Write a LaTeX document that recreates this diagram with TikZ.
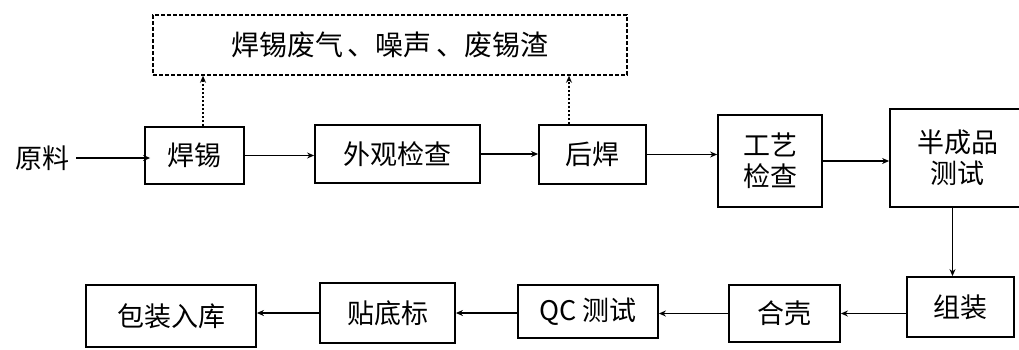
\documentclass[tikz,border=0pt]{standalone}
\usepackage{fontspec}
\setmainfont{Noto Sans CJK SC}
\usetikzlibrary{arrows.meta}
\begin{document}
\begin{tikzpicture}[x=1pt,y=-1pt,
  box/.style={draw, line width=1.8pt, inner sep=0pt, align=center, font=\fontsize{27}{31}\selectfont},
  lbl/.style={inner sep=0pt, font=\fontsize{27}{31}\selectfont},
  flow/.style={line width=1.6pt, -{Stealth[length=7pt,width=6pt]}},
  emit/.style={line width=1.5pt, dash pattern=on 2pt off 2pt, -{Stealth[length=7pt,width=6pt]}},
  wastebox/.style={draw, line width=1.5pt, dash pattern=on 4pt off 2pt, inner sep=0pt, font=\fontsize{28}{32}\selectfont}]
\useasboundingbox (0,0) rectangle (1019,349);
\fill[white] (0,0) rectangle (1019,349);

\node[wastebox, minimum width=474pt, minimum height=60pt] (db) at (390,45) {焊锡废气\,、噪声\,、废锡渣};
\node[lbl] (yl) at (43,158) {原料};
\node[box, minimum width=99pt, minimum height=57pt] (hx) at (194.5,155.5) {焊锡};
\node[box, minimum width=165pt, minimum height=58pt] (wg) at (397.5,154) {外观检查};
\node[box, minimum width=107pt, minimum height=59pt] (hh) at (592.5,154.5) {后焊};
\node[box, minimum width=104pt, minimum height=92pt] (gy) at (770,161) {工艺\\检查};
\node[box, minimum width=135pt, minimum height=98pt] (bc) at (957.5,158) {半成品\\测试};
\node[box, minimum width=107pt, minimum height=60pt] (zz) at (960.5,307) {组装};
\node[box, minimum width=111pt, minimum height=57pt] (hk) at (784.5,313.5) {合壳};
\node[box, minimum width=140pt, minimum height=53pt] (qc) at (588,311.5) {QC 测试};
\node[box, minimum width=135pt, minimum height=60pt] (td) at (387.5,313) {贴底标};
\node[box, minimum width=170pt, minimum height=62pt] (bz) at (171,316) {包装入库};

\draw[flow] ([xshift=6pt]yl.east) -- ([xshift=6pt]yl.east -| hx.west);
\draw[flow] (hx.east) -- (hx.east -| wg.west);
\draw[flow] (wg.east) -- (wg.east -| hh.west);
\draw[flow] (hh.east) -- (hh.east -| gy.west);
\draw[flow] (gy.east) -- (gy.east -| bc.west);
\draw[flow] ([xshift=-5pt]bc.south) -- ([xshift=-5pt]bc.south |- zz.north);
\draw[flow] (hk.east -| zz.west) -- (hk.east);
\draw[flow] (hk.west) -- (hk.west -| qc.east);
\draw[flow] (td.east -| qc.west) -- (td.east);
\draw[flow] (td.west) -- (td.west -| bz.east);
\draw[emit] ([xshift=8.5pt]hx.north) -- ([xshift=8.5pt]hx.north |- db.south);
\draw[emit] ([xshift=-23.5pt]hh.north) -- ([xshift=-23.5pt]hh.north |- db.south);
\end{tikzpicture}
\end{document}
